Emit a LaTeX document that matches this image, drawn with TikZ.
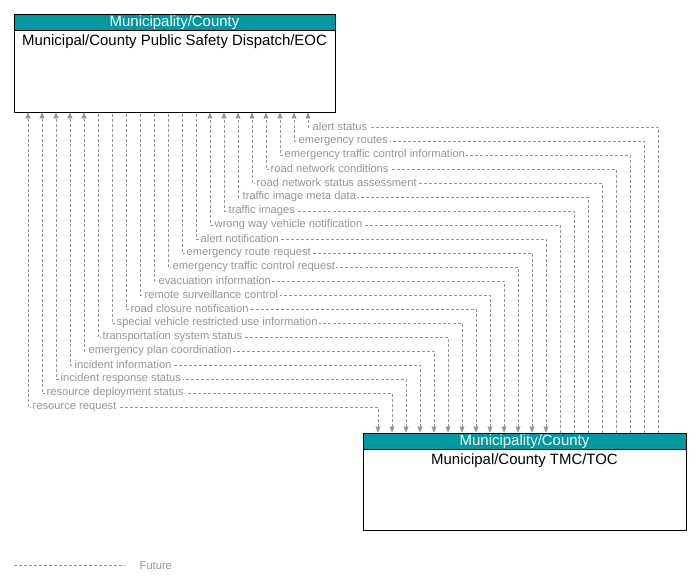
\documentclass[tikz,border=0pt]{standalone}
\usepackage{fontspec}
\setmainfont{Liberation Sans}
\usetikzlibrary{arrows.meta}
\definecolor{headteal}{RGB}{0,152,162}
\definecolor{flowgray}{RGB}{150,150,150}
\begin{document}
\begin{tikzpicture}[>={Triangle[width=5bp,length=6bp]},line join=bevel,
  box/.style={draw=black,line width=0.9bp,fill=white,inner sep=0pt},
  head/.style={draw=black,line width=0.9bp,fill=headteal,text=white,inner sep=0pt,text depth=1bp,font=\fontsize{15}{16}\selectfont},
  title/.style={inner sep=0pt,font=\fontsize{15}{16}\selectfont},
  flow/.style={flowgray,line width=0.7bp,dash pattern=on 3bp off 2bp},
  lbl/.style={anchor=west,fill=white,inner xsep=1.5bp,inner ysep=0.5bp,text=flowgray,font=\fontsize{11.2}{12}\selectfont},
]
\useasboundingbox (0bp,0bp) rectangle (697bp,587bp);
%%
\node (node_0) at (174.5bp,524bp) [box,minimum width=321bp,minimum height=98bp] {};
\node (head_0) at (174.5bp,565bp) [head,minimum width=321bp,minimum height=16bp] {Municipality/County};
\node (title_0) at (174.5bp,545.5bp) [title] {Municipal/County Public Safety Dispatch/EOC};
\node (node_1) at (524.5bp,105.5bp) [box,minimum width=323bp,minimum height=97bp] {};
\node (head_1) at (524.5bp,146bp) [head,minimum width=323bp,minimum height=16bp] {Municipality/County};
\node (title_1) at (524.5bp,126.5bp) [title] {Municipal/County TMC/TOC};
%
\coordinate (t_0) at (308bp,460bp);  \coordinate (b_0) at (658bp,460bp);
\coordinate (t_1) at (294bp,446bp);  \coordinate (b_1) at (644bp,446bp);
\coordinate (t_2) at (280bp,432bp);  \coordinate (b_2) at (630bp,432bp);
\coordinate (t_3) at (266bp,418bp);  \coordinate (b_3) at (616bp,418bp);
\coordinate (t_4) at (252bp,404bp);  \coordinate (b_4) at (602bp,404bp);
\coordinate (t_5) at (238bp,390bp);  \coordinate (b_5) at (588bp,390bp);
\coordinate (t_6) at (224bp,376bp);  \coordinate (b_6) at (574bp,376bp);
\coordinate (t_7) at (210bp,362bp);  \coordinate (b_7) at (560bp,362bp);
\coordinate (t_8) at (196bp,348bp);  \coordinate (b_8) at (546bp,348bp);
\coordinate (t_9) at (182bp,334bp);  \coordinate (b_9) at (532bp,334bp);
\coordinate (t_10) at (168bp,320bp); \coordinate (b_10) at (518bp,320bp);
\coordinate (t_11) at (154bp,306bp); \coordinate (b_11) at (504bp,306bp);
\coordinate (t_12) at (140bp,292bp); \coordinate (b_12) at (490bp,292bp);
\coordinate (t_13) at (126bp,278bp); \coordinate (b_13) at (476bp,278bp);
\coordinate (t_14) at (112bp,264bp); \coordinate (b_14) at (462bp,264bp);
\coordinate (t_15) at (98bp,250bp);  \coordinate (b_15) at (448bp,250bp);
\coordinate (t_16) at (84bp,236bp);  \coordinate (b_16) at (434bp,236bp);
\coordinate (t_17) at (70bp,222bp);  \coordinate (b_17) at (420bp,222bp);
\coordinate (t_18) at (56bp,208bp);  \coordinate (b_18) at (406bp,208bp);
\coordinate (t_19) at (42bp,194bp);  \coordinate (b_19) at (392bp,194bp);
\coordinate (t_20) at (28bp,180bp);  \coordinate (b_20) at (378bp,180bp);
%
\draw [flow,->] (node_1.north -| b_0) -- (b_0) -- (t_0) -- (node_0.south -| t_0);
\draw [flow,->] (node_1.north -| b_1) -- (b_1) -- (t_1) -- (node_0.south -| t_1);
\draw [flow,->] (node_1.north -| b_2) -- (b_2) -- (t_2) -- (node_0.south -| t_2);
\draw [flow,->] (node_1.north -| b_3) -- (b_3) -- (t_3) -- (node_0.south -| t_3);
\draw [flow,->] (node_1.north -| b_4) -- (b_4) -- (t_4) -- (node_0.south -| t_4);
\draw [flow,->] (node_1.north -| b_5) -- (b_5) -- (t_5) -- (node_0.south -| t_5);
\draw [flow,->] (node_1.north -| b_6) -- (b_6) -- (t_6) -- (node_0.south -| t_6);
\draw [flow,->] (node_1.north -| b_7) -- (b_7) -- (t_7) -- (node_0.south -| t_7);
\draw [flow,<-] (node_1.north -| b_8) -- (b_8) -- (t_8) -- (node_0.south -| t_8);
\draw [flow,<-] (node_1.north -| b_9) -- (b_9) -- (t_9) -- (node_0.south -| t_9);
\draw [flow,<-] (node_1.north -| b_10) -- (b_10) -- (t_10) -- (node_0.south -| t_10);
\draw [flow,<-] (node_1.north -| b_11) -- (b_11) -- (t_11) -- (node_0.south -| t_11);
\draw [flow,<-] (node_1.north -| b_12) -- (b_12) -- (t_12) -- (node_0.south -| t_12);
\draw [flow,<-] (node_1.north -| b_13) -- (b_13) -- (t_13) -- (node_0.south -| t_13);
\draw [flow,<-] (node_1.north -| b_14) -- (b_14) -- (t_14) -- (node_0.south -| t_14);
\draw [flow,<-] (node_1.north -| b_15) -- (b_15) -- (t_15) -- (node_0.south -| t_15);
\draw [flow,<->] (node_1.north -| b_16) -- (b_16) -- (t_16) -- (node_0.south -| t_16);
\draw [flow,<->] (node_1.north -| b_17) -- (b_17) -- (t_17) -- (node_0.south -| t_17);
\draw [flow,<->] (node_1.north -| b_18) -- (b_18) -- (t_18) -- (node_0.south -| t_18);
\draw [flow,<->] (node_1.north -| b_19) -- (b_19) -- (t_19) -- (node_0.south -| t_19);
\draw [flow,<->] (node_1.north -| b_20) -- (b_20) -- (t_20) -- (node_0.south -| t_20);
%
\node (lbl_0) at ([xshift=3bp]t_0) [lbl] {alert status};
\node (lbl_1) at ([xshift=3bp]t_1) [lbl] {emergency routes};
\node (lbl_2) at ([xshift=3bp]t_2) [lbl] {emergency traffic control information};
\node (lbl_3) at ([xshift=3bp]t_3) [lbl] {road network conditions};
\node (lbl_4) at ([xshift=3bp]t_4) [lbl] {road network status assessment};
\node (lbl_5) at ([xshift=3bp]t_5) [lbl] {traffic image meta data};
\node (lbl_6) at ([xshift=3bp]t_6) [lbl] {traffic images};
\node (lbl_7) at ([xshift=3bp]t_7) [lbl] {wrong way vehicle notification};
\node (lbl_8) at ([xshift=3bp]t_8) [lbl] {alert notification};
\node (lbl_9) at ([xshift=3bp]t_9) [lbl] {emergency route request};
\node (lbl_10) at ([xshift=3bp]t_10) [lbl] {emergency traffic control request};
\node (lbl_11) at ([xshift=3bp]t_11) [lbl] {evacuation information};
\node (lbl_12) at ([xshift=3bp]t_12) [lbl] {remote surveillance control};
\node (lbl_13) at ([xshift=3bp]t_13) [lbl] {road closure notification};
\node (lbl_14) at ([xshift=3bp]t_14) [lbl] {special vehicle restricted use information};
\node (lbl_15) at ([xshift=3bp]t_15) [lbl] {transportation system status};
\node (lbl_16) at ([xshift=3bp]t_16) [lbl] {emergency plan coordination};
\node (lbl_17) at ([xshift=3bp]t_17) [lbl] {incident information};
\node (lbl_18) at ([xshift=3bp]t_18) [lbl] {incident response status};
\node (lbl_19) at ([xshift=3bp]t_19) [lbl] {resource deployment status};
\node (lbl_20) at ([xshift=3bp]t_20) [lbl] {resource request};
%
\coordinate (leg_a) at (14bp,22bp);
\coordinate (leg_b) at (125bp,22bp);
\draw [flow] (leg_a) -- (leg_b);
\node (leg_txt) at (138bp,21.5bp) [lbl] {Future};
%
\end{tikzpicture}
\end{document}
